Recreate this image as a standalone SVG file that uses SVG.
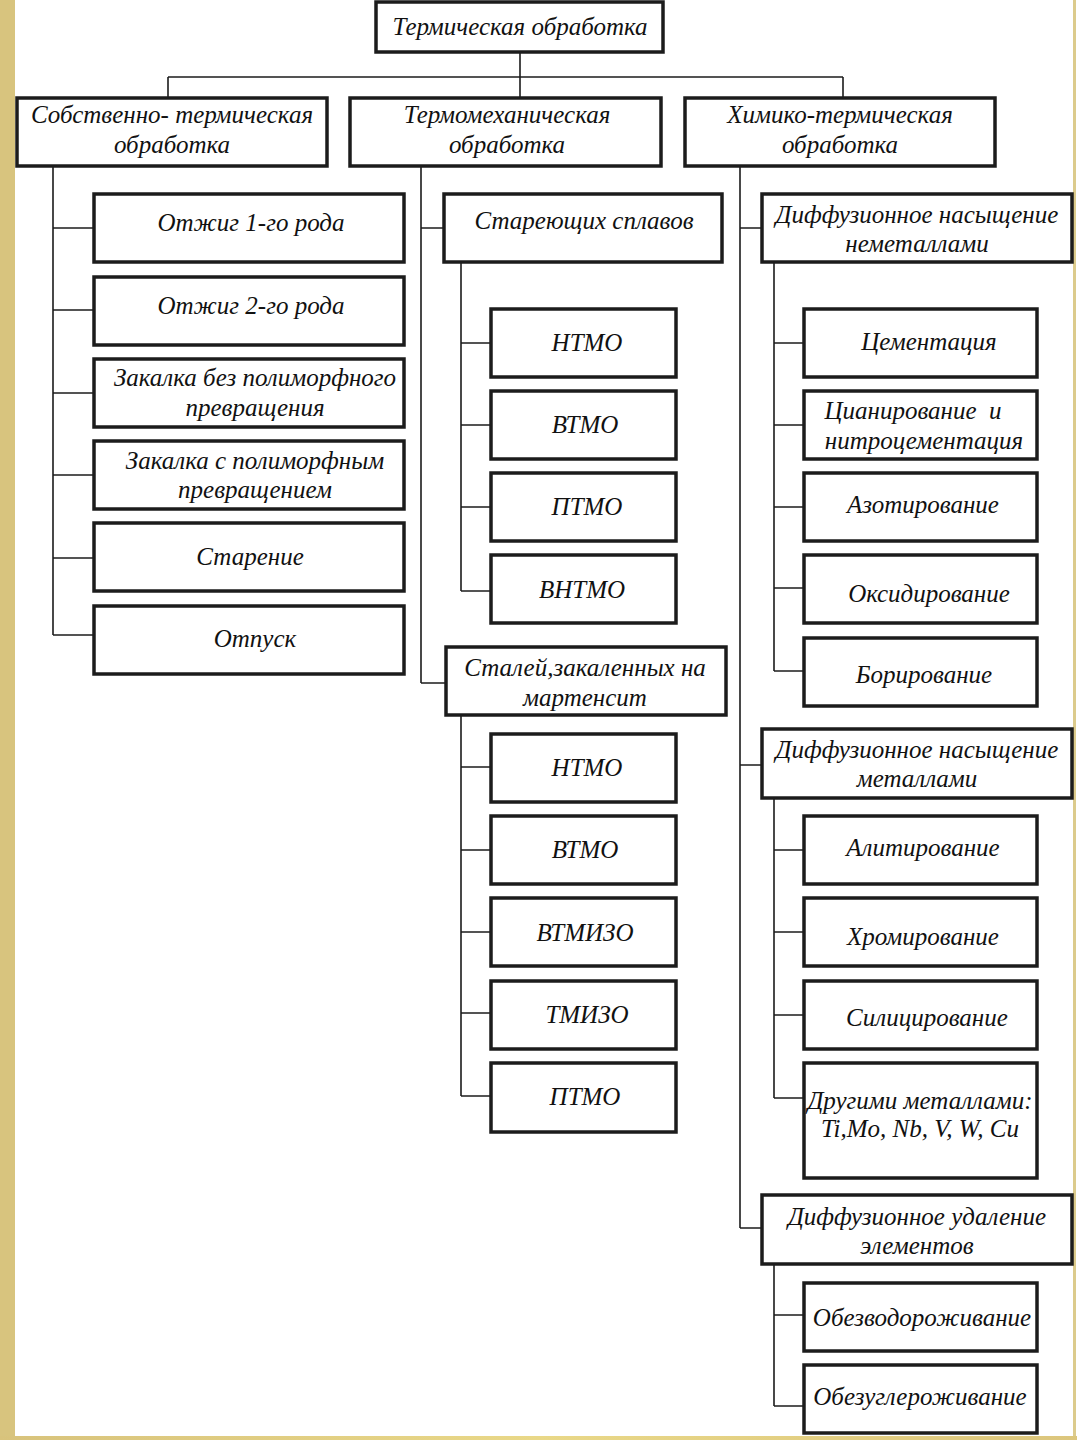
<svg xmlns="http://www.w3.org/2000/svg" width="1077" height="1440" viewBox="0 0 1077 1440">
<defs>
<linearGradient id="gb" x1="0" y1="0" x2="1" y2="0">
<stop offset="0" stop-color="#D8C37C"/>
<stop offset="0.5" stop-color="#E9D888"/>
<stop offset="1" stop-color="#DCC67D"/>
</linearGradient>
<style>
.box{fill:#fff;stroke:#1c1c1c;stroke-width:3.5}
.ln{fill:none;stroke:#1c1c1c;stroke-width:1.6}
text{font-family:"Liberation Serif","Times New Roman",serif;font-style:italic;font-size:25px;fill:#111;text-anchor:middle}
</style>
</defs>
<rect x="0" y="0" width="1077" height="1440" fill="#fff"/>
<rect x="0" y="0" width="15" height="1440" fill="#D8C47E"/>
<rect x="0" y="1436" width="1077" height="4" fill="url(#gb)"/>
<rect x="1073" y="0" width="3" height="1436" fill="#DCCB8C"/>

<g id="connectors">
<path class="ln" d="M520 52V77M168 77H843M168 77V97M520 77V97M843 77V97"/>
<path class="ln" d="M53 166V635M53 228H94M53 310H94M53 393H94M53 475H94M53 558H94M53 635H94"/>
<path class="ln" d="M421 166V683M421 228H444M421 683H446"/>
<path class="ln" d="M461 262V591M461 343H491M461 425H491M461 507H491M461 591H491"/>
<path class="ln" d="M461 715V1096M461 767H491M461 850H491M461 932H491M461 1013H491M461 1096H491"/>
<path class="ln" d="M740 166V1228M740 228H762M740 765H762M740 1228H762"/>
<path class="ln" d="M774 262V671M774 343H804M774 425H804M774 507H804M774 588H804M774 671H804"/>
<path class="ln" d="M774 798V1098M774 850H804M774 932H804M774 1015H804M774 1098H804"/>
<path class="ln" d="M774 1264V1406M774 1315H804M774 1406H804"/>
</g>

<g id="n-root"><rect class="box" x="376" y="2" width="287" height="50"/><text x="520" y="35">Термическая обработка</text></g>

<g id="n-sobst"><rect class="box" x="17" y="98" width="310" height="68"/><text x="172" y="123">Собственно- термическая</text><text x="172" y="153">обработка</text></g>
<g id="n-termomech"><rect class="box" x="350" y="98" width="311" height="68"/><text x="507" y="123">Термомеханическая</text><text x="507" y="153">обработка</text></g>
<g id="n-khim"><rect class="box" x="685" y="98" width="310" height="68"/><text x="840" y="123">Химико-термическая</text><text x="840" y="153">обработка</text></g>

<g id="n-otzhig1"><rect class="box" x="94" y="194" width="310" height="68"/><text x="251" y="231">Отжиг 1-го рода</text></g>
<g id="n-otzhig2"><rect class="box" x="94" y="277" width="310" height="68"/><text x="251" y="314">Отжиг 2-го рода</text></g>
<g id="n-zak1"><rect class="box" x="94" y="359" width="310" height="68"/><text x="255" y="386">Закалка без полиморфного</text><text x="255" y="416">превращения</text></g>
<g id="n-zak2"><rect class="box" x="94" y="441" width="310" height="68"/><text x="255" y="469">Закалка с полиморфным</text><text x="255" y="498">превращением</text></g>
<g id="n-starenie"><rect class="box" x="94" y="523" width="310" height="68"/><text x="250" y="565">Старение</text></g>
<g id="n-otpusk"><rect class="box" x="94" y="606" width="310" height="68"/><text x="255" y="647">Отпуск</text></g>

<g id="n-star-spl"><rect class="box" x="444" y="194" width="278" height="68"/><text x="584" y="229">Стареющих сплавов</text></g>
<g id="n-ntmo1"><rect class="box" x="491" y="309" width="185" height="68"/><text x="587" y="351">НТМО</text></g>
<g id="n-vtmo1"><rect class="box" x="491" y="391" width="185" height="68"/><text x="585" y="433">ВТМО</text></g>
<g id="n-ptmo1"><rect class="box" x="491" y="473" width="185" height="68"/><text x="587" y="515">ПТМО</text></g>
<g id="n-vntmo"><rect class="box" x="491" y="555" width="185" height="68"/><text x="582" y="598">ВНТМО</text></g>
<g id="n-stalei"><rect class="box" x="446" y="647" width="280" height="68"/><text x="585" y="676">Сталей,закаленных на</text><text x="585" y="706">мартенсит</text></g>
<g id="n-ntmo2"><rect class="box" x="491" y="734" width="185" height="68"/><text x="587" y="776">НТМО</text></g>
<g id="n-vtmo2"><rect class="box" x="491" y="816" width="185" height="68"/><text x="585" y="858">ВТМО</text></g>
<g id="n-vtmizo"><rect class="box" x="491" y="898" width="185" height="68"/><text x="585" y="941">ВТМИЗО</text></g>
<g id="n-tmizo"><rect class="box" x="491" y="981" width="185" height="68"/><text x="587" y="1023">ТМИЗО</text></g>
<g id="n-ptmo2"><rect class="box" x="491" y="1063" width="185" height="69"/><text x="585" y="1105">ПТМО</text></g>

<g id="n-dif-nemet"><rect class="box" x="762" y="194" width="310" height="68"/><text x="917" y="223">Диффузионное насыщение</text><text x="917" y="252">неметаллами</text></g>
<g id="n-cement"><rect class="box" x="804" y="309" width="233" height="68"/><text x="929" y="350">Цементация</text></g>
<g id="n-cian"><rect class="box" x="804" y="391" width="233" height="68"/><text x="913" y="419" xml:space="preserve">Цианирование  и</text><text x="924" y="449">нитроцементация</text></g>
<g id="n-azot"><rect class="box" x="804" y="473" width="233" height="68"/><text x="923" y="513">Азотирование</text></g>
<g id="n-oksid"><rect class="box" x="804" y="555" width="233" height="68"/><text x="929" y="602">Оксидирование</text></g>
<g id="n-borir"><rect class="box" x="804" y="638" width="233" height="68"/><text x="924" y="683">Борирование</text></g>
<g id="n-dif-met"><rect class="box" x="762" y="729" width="310" height="69"/><text x="917" y="758">Диффузионное насыщение</text><text x="917" y="787">металлами</text></g>
<g id="n-alit"><rect class="box" x="804" y="816" width="233" height="68"/><text x="923" y="856">Алитирование</text></g>
<g id="n-khrom"><rect class="box" x="804" y="898" width="233" height="68"/><text x="923" y="945">Хромирование</text></g>
<g id="n-silic"><rect class="box" x="804" y="981" width="233" height="68"/><text x="927" y="1026">Силицирование</text></g>
<g id="n-drugimi"><rect class="box" x="804" y="1063" width="233" height="115"/><text x="920" y="1109">Другими металлами:</text><text x="920" y="1137">Ti,Mo, Nb, V, W, Cu</text></g>
<g id="n-dif-udal"><rect class="box" x="762" y="1195" width="310" height="69"/><text x="917" y="1225">Диффузионное удаление</text><text x="917" y="1254">элементов</text></g>
<g id="n-obezvod"><rect class="box" x="804" y="1283" width="233" height="68"/><text x="922" y="1326">Обезводороживание</text></g>
<g id="n-obezugl"><rect class="box" x="804" y="1365" width="233" height="68"/><text x="920" y="1405">Обезуглероживание</text></g>
</svg>
